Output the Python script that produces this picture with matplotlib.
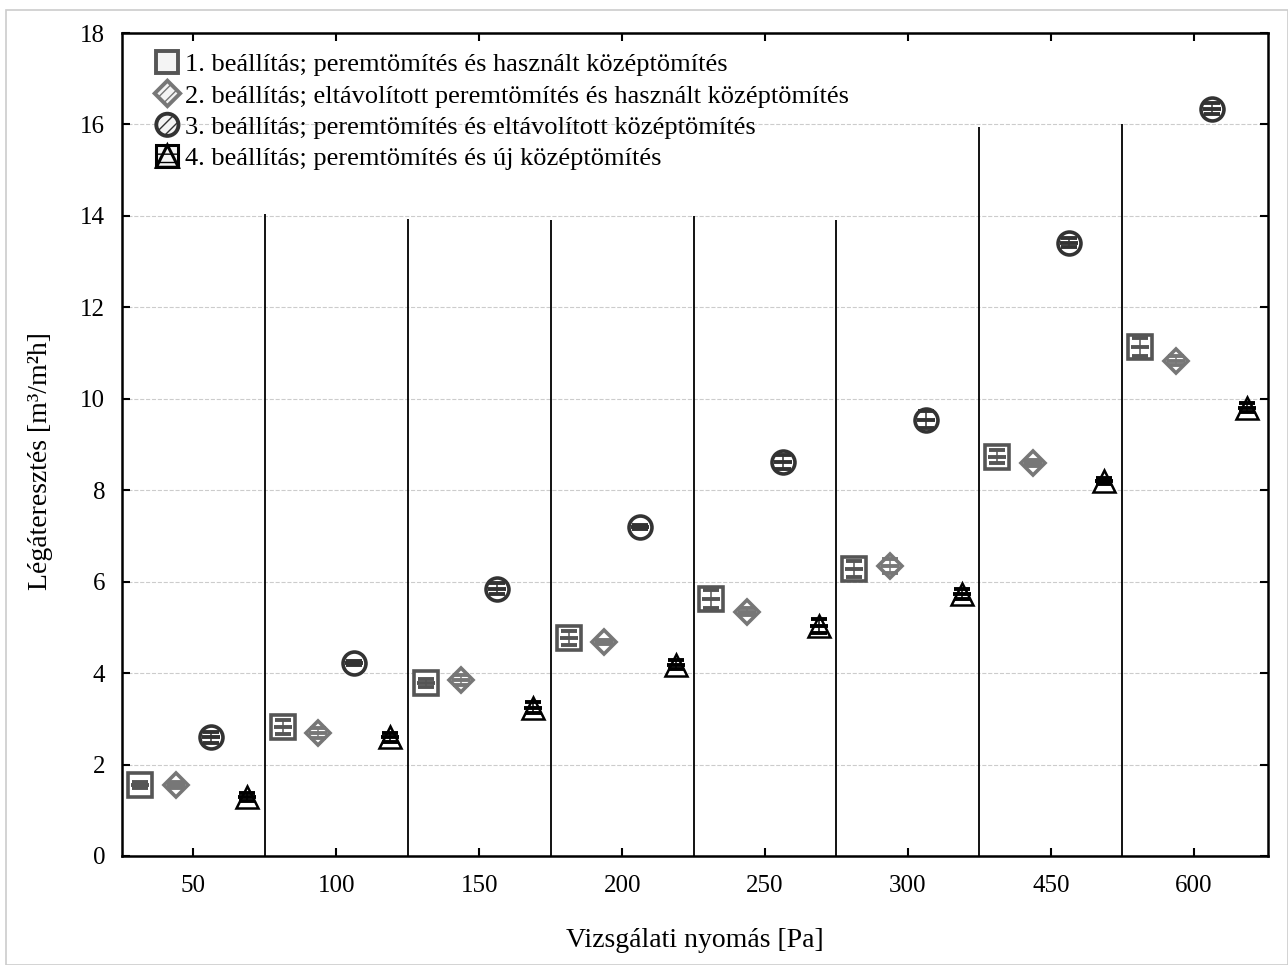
import numpy as np
import matplotlib.pyplot as plt
from matplotlib.patches import Rectangle, Polygon, Circle
from matplotlib.legend_handler import HandlerBase
from matplotlib.lines import Line2D

plt.rcParams['font.family'] = ['Liberation Serif', 'DejaVu Serif']

# data
pressures = ['50', '100', '150', '200', '250', '300', '450', '600']
labels = ['1. beállítás; peremtömítés és használt középtömítés',
          '2. beállítás; eltávolított peremtömítés és használt középtömítés',
          '3. beállítás; peremtömítés és eltávolított középtömítés',
          '4. beállítás; peremtömítés és új középtömítés']
set1 = [1.55, 2.82, 3.78, 4.77, 5.62, 6.28, 8.73, 11.13]
set2 = [1.55, 2.69, 3.85, 4.68, 5.34, 6.34, 8.60, 10.83]
set3 = [2.60, 4.22, 5.84, 7.20, 8.62, 9.54, 13.41, 16.34]
set4 = [1.29, 2.60, 3.24, 4.18, 5.03, 5.73, 8.20, 9.80]
err1 = [0.07, 0.15, 0.08, 0.16, 0.20, 0.17, 0.14, 0.20]
err2 = [0.07, 0.10, 0.10, 0.05, 0.08, 0.15, 0.07, 0.10]
err3 = [0.12, 0.05, 0.12, 0.04, 0.15, 0.19, 0.10, 0.12]
err4 = [0.08, 0.10, 0.12, 0.10, 0.15, 0.10, 0.07, 0.10]
sep_tops = [14.05, 13.93, 13.90, 14.00, 13.90, 15.95, 16.00]

fig = plt.figure(figsize=(12.88, 9.65), dpi=100)
fig.patches.append(Rectangle((0.005, 0.0), 0.995, 0.99, transform=fig.transFigure,
                             fill=False, edgecolor='#cccccc', linewidth=1.2))
ax = fig.add_axes([0.0947, 0.113, 0.8898, 0.8528])

x = np.arange(len(pressures))
series = [
    (set1, err1, 's', 17, '#555555', -0.375),
    (set2, err2, 'D', 12.5, '#777777', -0.125),
    (set3, err3, 'o', 16.5, '#333333', 0.125),
    (set4, err4, '^', 16, '#000000', 0.375),
]
for vals, err, m, ms, col, off in series:
    ew = 1.8 if m == '^' else 2.6
    ax.plot(x + off, vals, linestyle='none', marker=m, markersize=ms,
            markerfacecolor='white', markeredgecolor=col, markeredgewidth=ew, zorder=3)
    ax.errorbar(x + off, vals, yerr=err, fmt='_', markersize=12.5, markeredgewidth=2.8,
                color=col, ecolor=col, elinewidth=1.1, capsize=6, capthick=1.1, zorder=4)

# group separators
ax.vlines(np.arange(len(sep_tops)) + 0.5, 0, sep_tops, colors='black', linewidth=1.3, zorder=2)

ax.set_xlim(-0.5, 7.52)
ax.set_ylim(0, 18)
ax.set_yticks(np.arange(0, 19, 2))
ax.set_xticks(x)
ax.set_xticklabels(pressures)
ax.yaxis.grid(True, linestyle='--', color='#cccccc', linewidth=0.8)
ax.set_axisbelow(True)
ax.tick_params(direction='in', length=6, width=1.5, labelsize=18, top=True, right=True)
ax.tick_params(axis='x', pad=14)
ax.tick_params(axis='y', pad=12)
for s in ax.spines.values():
    s.set_linewidth(1.8)

ax.set_xlabel('Vizsgálati nyomás [Pa]', fontsize=20, labelpad=22)
ax.set_ylabel('Légáteresztés [m³/m²h]', fontsize=20)
ax.yaxis.set_label_coords(-0.06, 0.48)


class HatchHandler(HandlerBase):
    def __init__(self, kind, color, hatch, lw):
        super().__init__()
        self.kind, self.color, self.hatch, self.lw = kind, color, hatch, lw

    def create_artists(self, legend, orig_handle, xdescent, ydescent, width, height, fontsize, trans):
        cx = width / 2 - xdescent
        cy = height / 2 - ydescent
        r = height * 0.6
        kw = dict(facecolor='#f4f4f4', edgecolor=self.color, hatch=self.hatch,
                  linewidth=self.lw, transform=trans)
        if self.kind == 's':
            p = Rectangle((cx - r, cy - r), 2 * r, 2 * r, **kw)
        elif self.kind == 'D':
            p = Polygon([(cx, cy + r * 1.15), (cx + r * 1.15, cy), (cx, cy - r * 1.15),
                         (cx - r * 1.15, cy)], **kw)
        elif self.kind == 'o':
            p = Circle((cx, cy), r, **kw)
        else:
            p = Rectangle((cx - r, cy - r), 2 * r, 2 * r, **kw)
            t = Polygon([(cx, cy + r), (cx - r, cy - r), (cx + r, cy - r)], closed=True,
                        fill=False, edgecolor=self.color, linewidth=self.lw, transform=trans)
            return [p, t]
        return [p]


handles = [Line2D([], []) for _ in labels]
hmap = {handles[0]: HatchHandler('s', '#555555', None, 2.8),
        handles[1]: HatchHandler('D', '#777777', '///', 2.8),
        handles[2]: HatchHandler('o', '#333333', '///', 2.8),
        handles[3]: HatchHandler('^', '#000000', '--', 2.2)}
ax.legend(handles, labels, handler_map=hmap, loc='upper left', bbox_to_anchor=(0.012, 1.0),
          frameon=False, fontsize=19, handlelength=0.9, handletextpad=0.2,
          labelspacing=0.3, borderaxespad=0.35)

fig.savefig('out.png', dpi=100)
